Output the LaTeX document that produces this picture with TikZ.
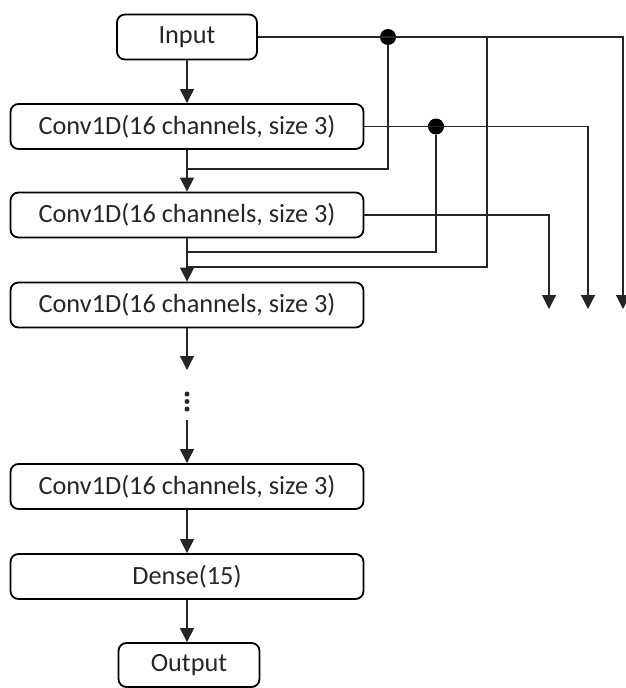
\documentclass[tikz,border=0pt]{standalone}
\usepackage{fontspec}
\setmainfont{Carlito}
\usetikzlibrary{arrows.meta}
\begin{document}
\begin{tikzpicture}[x=1pt,y=-1pt,
 box/.style={draw, line width=1.8pt, rounded corners=8pt, minimum height=45pt, inner sep=0pt, font=\fontsize{26.3}{30}\selectfont, text=black!85},
 conn/.style={line width=1.2pt, draw=black!85},
 arr/.style={conn, -{Triangle[width=14pt,length=14pt]}},
 junc/.style={circle, fill=black, inner sep=0pt, minimum size=16pt},
 dotb/.style={circle, fill=black!85, inner sep=0pt, minimum size=5pt}]
\useasboundingbox (0,0) rectangle (625,688);
% main column
\node[box, minimum width=140pt] (in) at (187,37) {Input};
\node[box, minimum width=353pt] (c1) at (187,126.5) {Conv1D(16 channels, size 3)};
\node[box, minimum width=353pt] (c2) at (187,215) {Conv1D(16 channels, size 3)};
\node[box, minimum width=353pt] (c3) at (187,305) {Conv1D(16 channels, size 3)};
\node[box, minimum width=353pt] (c4) at (187,486.5) {Conv1D(16 channels, size 3)};
\node[box, minimum width=353pt] (de) at (187,576.5) {Dense(15)};
\node[box, minimum width=141pt, minimum height=44pt] (out) at (189,665) {Output};
% ellipsis
\node[dotb] (e1) at (187,394) {};
\node[dotb] (e2) at (187,401.5) {};
\node[dotb] (e3) at (187,409) {};
\coordinate (a3) at (187,370);
\coordinate (d2) at (187,420);
% skip junctions
\node[junc] (j1) at (388,37) {};
\node[junc] (j2) at (436,126.5) {};
\coordinate (b1) at (487,37);
\coordinate (m1) at (187,169);
\coordinate (m2) at (187,252);
\coordinate (m3) at (187,267);
\coordinate (t1) at (549,309);
\coordinate (t2) at (588,309);
\coordinate (t3) at (623,309);
% main arrows
\draw[arr] (in) -- (c1);
\draw[arr] (c1) -- (c2);
\draw[arr] (c2) -- (c3);
\draw[arr] (c3) -- (a3);
\draw[arr] (d2) -- (c4);
\draw[arr] (c4) -- (de);
\draw[arr] (de.south) -- (de.south |- out.north);
% side outputs
\draw[arr] (in.east) -| (t3);
\draw[arr] (c1.east) -| (t2);
\draw[arr] (c2.east) -| (t1);
% skip connections
\draw[conn] (j1) |- (m1);
\draw[conn] (j2) |- (m2);
\draw[conn] (b1) |- (m3);
\end{tikzpicture}
\end{document}
